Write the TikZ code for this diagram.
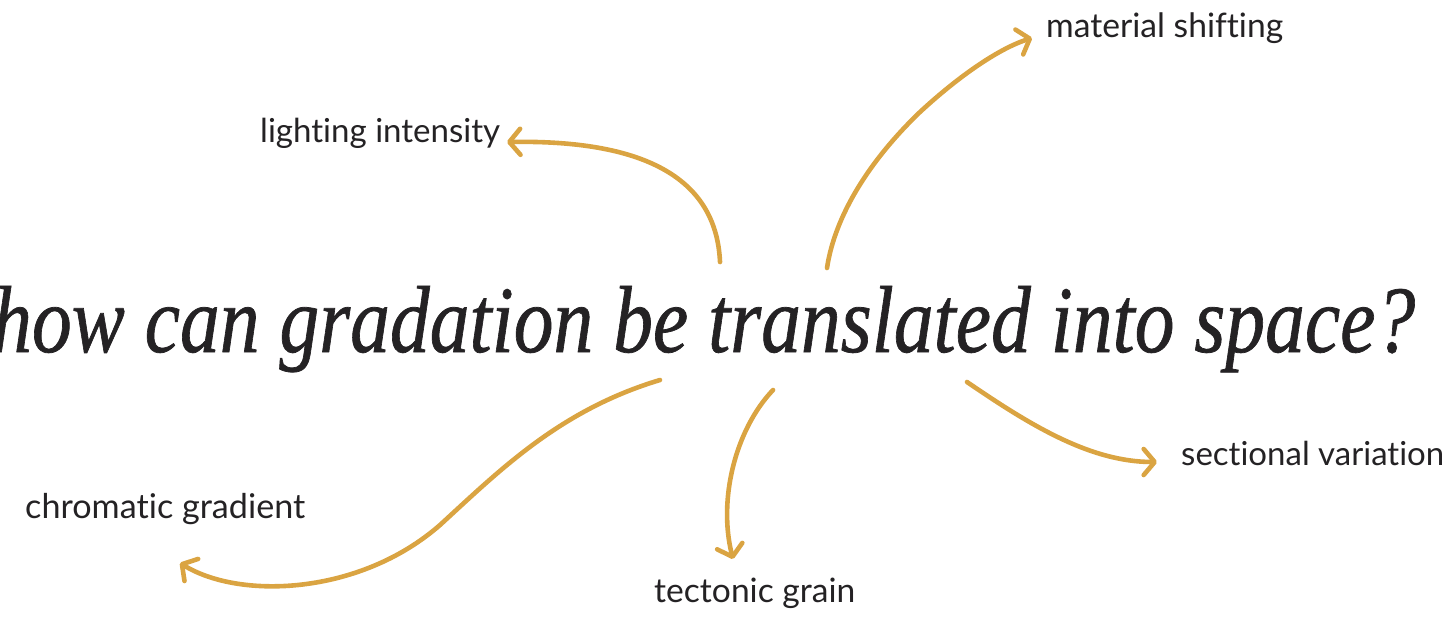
\documentclass[tikz,border=0pt]{standalone}
\usepackage{fontspec}
\setmainfont{Liberation Serif}
\newfontface\titleface[FakeBold=0.8]{Liberation Serif Italic}
\newfontfamily\labelfont[Ligatures={NoCommon,NoContextual}]{Lato}
\usetikzlibrary{arrows.meta}
\definecolor{gold}{RGB}{218,164,66}
\definecolor{ink}{RGB}{36,34,36}
\begin{document}
\begin{tikzpicture}[x=1pt,y=-1pt,
  lbl/.style={anchor=base west,inner sep=0pt,text=ink,font=\labelfont},
  conn/.style={draw=gold,line width=4.6pt,line cap=round,
    -{Straight Barb[length=11pt,width=26pt,round]}}]
\useasboundingbox (0,0) rectangle (1451,625);
\node[anchor=base west,inner sep=0pt,text=ink] (title) at (-8,352)
  {\resizebox{1423pt}{66pt}{\titleface how can gradation be translated into space?}};
\node[lbl] (mat) at (1046,37) {\resizebox{237pt}{!}{material shifting}};
\node[lbl] (lig) at (260,142) {\resizebox{240pt}{!}{lighting intensity}};
\node[lbl] (sec) at (1181,465) {\resizebox{263pt}{!}{sectional variation}};
\node[lbl] (chr) at (25,518) {\resizebox{280pt}{!}{chromatic gradient}};
\node[lbl] (tec) at (654,602) {\resizebox{201pt}{!}{tectonic grain}};
\coordinate (s1) at (720,262); \coordinate (t1) at (507,142);
\coordinate (s2) at (827,268); \coordinate (t2) at (1032,38);
\coordinate (s3) at (967,382); \coordinate (t3) at (1157,462);
\coordinate (s4) at (773,390); \coordinate (t4) at (733,559);
\coordinate (s5) at (660,380); \coordinate (t5) at (180,563);
\draw[conn] (s1) .. controls (716,170) and (630,140) .. (t1);
\draw[conn] (s2) .. controls (835,215) and (870,160) .. (920,112) .. controls (960,75) and (1000,48) .. (t2);
\draw[conn] (s3) .. controls (1030,425) and (1090,462) .. (t3);
\draw[conn] (s4) .. controls (735,430) and (718,500) .. (t4);
\draw[conn] (s5) .. controls (560,410) and (500,470) .. (440,525) .. controls (360,595) and (240,600) .. (t5);
\end{tikzpicture}
\end{document}
